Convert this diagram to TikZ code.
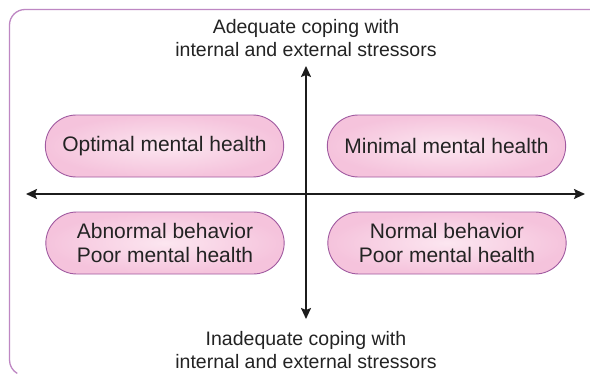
\documentclass[tikz,border=0pt]{standalone}
\usepackage{fontspec}
\setmainfont{Liberation Sans}
\usetikzlibrary{arrows.meta,shapes.misc}
\definecolor{framecol}{RGB}{190,135,195}
\definecolor{pillborder}{RGB}{160,90,160}
\definecolor{pillfill}{RGB}{245,195,220}
\definecolor{pillinner}{RGB}{252,230,240}
\definecolor{axiscol}{RGB}{28,28,28}
\definecolor{txtcol}{RGB}{35,35,35}
\tikzset{
  pill/.style={rounded rectangle, draw=pillborder, line width=0.9pt,
    inner color=pillinner, outer color=pillfill,
    minimum width=245pt, minimum height=62pt, align=center,
    font=\fontsize{21pt}{23.5pt}\selectfont, text=txtcol},
  axislabel/.style={align=center, font=\fontsize{19.5pt}{23pt}\selectfont, text=txtcol},
  axis/.style={line width=1.8pt, draw=axiscol,
    {Stealth[length=11pt,width=10pt,inset=2pt]}-{Stealth[length=11pt,width=10pt,inset=2pt]}},
  frameline/.style={draw=framecol, line width=1.3pt}
}
\begin{document}
\begin{tikzpicture}[x=1pt,y=-1pt]
\useasboundingbox (0,0) rectangle (590,375);
\fill[white] (0,0) rectangle (590,375);
% frame
\draw[frameline] (591,9.5) -- (25,9.5) arc[start angle=270, end angle=180, radius=15.5] -- (9.5,360) arc[start angle=180, end angle=120, radius=15.5];
% quadrant boxes
\node[pill] (omh) at (164.5,146) {Optimal mental health};
\node[pill] (mmh) at (446.5,146) {Minimal mental health};
\node[pill] (abn) at (165,243) {Abnormal behavior\\Poor mental health};
\node[pill] (nor) at (447,243) {Normal behavior\\Poor mental health};
% axis labels
\node[axislabel] (top) at (306,38) {Adequate coping with\\internal and external stressors};
\node[axislabel] (bot) at (306,350) {Inadequate coping with\\internal and external stressors};
% axes
\coordinate (L) at (26,194);
\coordinate (R) at (585,194);
\coordinate (T) at (306,66);
\coordinate (B) at (306,319);
\draw[axis] (L) -- (R);
\draw[axis] (T) -- (B);
\end{tikzpicture}
\end{document}
